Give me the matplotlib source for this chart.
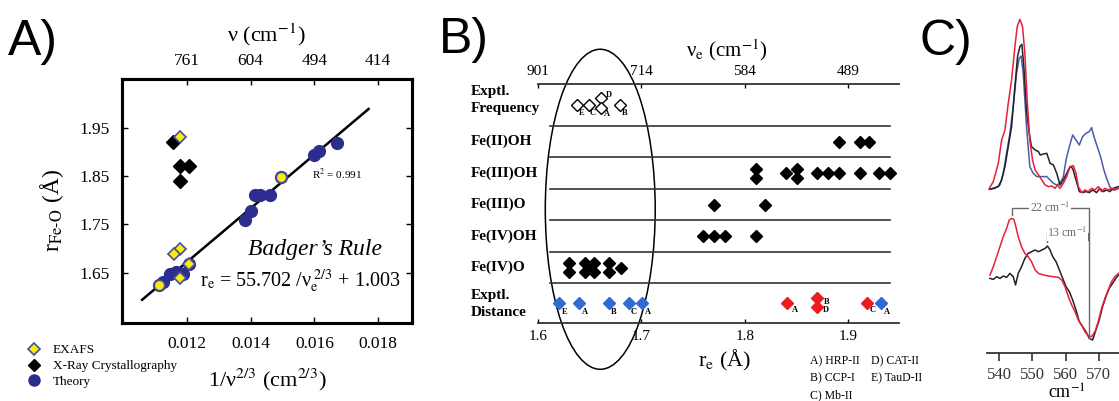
import matplotlib
matplotlib.use('Agg')
import matplotlib.pyplot as plt
from matplotlib.lines import Line2D
from matplotlib.patches import Ellipse
import matplotlib.transforms as mtransforms

plt.rcParams['font.family'] = 'Liberation Serif'
plt.rcParams['mathtext.fontset'] = 'stix'

# ---------------- Panel A data ----------------
a_xticks = [0.012, 0.014, 0.016, 0.018]
a_xticklabels = ['0.012', '0.014', '0.016', '0.018']
a_top_labels = ['761', '604', '494', '414']
a_yticks = [1.65, 1.75, 1.85, 1.95]
a_yticklabels = ['1.65', '1.75', '1.85', '1.95']

theory_x = [0.01126, 0.01147, 0.01166, 0.01188, 0.01207, 0.01113, 0.01381, 0.01402,
            0.01413, 0.01428, 0.01462, 0.01496, 0.01600, 0.01616, 0.01670]
theory_y = [1.630, 1.648, 1.651, 1.648, 1.668, 1.625, 1.760, 1.777,
            1.811, 1.811, 1.811, 1.849, 1.894, 1.903, 1.918]
xray_x = [0.01157, 0.01178, 0.01207, 0.01178]
xray_y = [1.920, 1.870, 1.870, 1.839]
exafs_x = [0.01178, 0.01178, 0.01160, 0.01178, 0.01207]
exafs_y = [1.930, 1.700, 1.689, 1.639, 1.668]
exafs_round_x = [0.01113, 0.01496]
exafs_round_y = [1.625, 1.849]
fit_x = [0.0106, 0.0177]
fit_y = [1.594, 1.989]

# ---------------- Panel B data ----------------
b_xticks = [1.6, 1.7, 1.8, 1.9]
b_xticklabels = ['1.6', '1.7', '1.8', '1.9']
b_top_labels = ['901', '714', '584', '489']
row_names = ['Exptl.\nFrequency', 'Fe(II)OH', 'Fe(III)OH', 'Fe(III)O', 'Fe(IV)OH', 'Fe(IV)O', 'Exptl.\nDistance']
row_label_y = [-0.32, 1.0, 2.0, 3.0, 4.0, 5.0, 6.15]
separators_y = [0.5, 1.5, 2.5, 3.5, 4.5, 5.5]

freq_r = [1.638, 1.649, 1.661, 1.661, 1.679]
freq_y = [-0.17, -0.17, -0.38, -0.06, -0.17]
freq_lab = ['E', 'C', 'D', 'A', 'B']

fe2oh_r = [1.891, 1.911, 1.920]
fe2oh_y = [1.0, 1.0, 1.0]
fe3oh_r = [1.811, 1.811, 1.840, 1.850, 1.850, 1.870, 1.880, 1.891, 1.911, 1.930, 1.940]
fe3oh_y = [1.86, 2.14, 2.0, 1.86, 2.14, 2.0, 2.0, 2.0, 2.0, 2.0, 2.0]
fe3o_r = [1.770, 1.820]
fe3o_y = [3.0, 3.0]
fe4oh_r = [1.760, 1.770, 1.781, 1.811]
fe4oh_y = [4.0, 4.0, 4.0, 4.0]
fe4o_r = [1.630, 1.630, 1.645, 1.645, 1.649, 1.654, 1.654, 1.669, 1.669, 1.680]
fe4o_y = [4.86, 5.14, 4.86, 5.14, 5.0, 4.86, 5.14, 4.86, 5.14, 5.0]

dist_blue_r = [1.6206, 1.640, 1.6682, 1.6882, 1.7005, 1.9314]
dist_blue_y = [6.11, 6.11, 6.11, 6.11, 6.11, 6.11]
dist_blue_lab = ['E', 'A', 'B', 'C', 'A', 'A']
dist_red_r = [1.8406, 1.870, 1.870, 1.9179]
dist_red_y = [6.11, 5.97, 6.24, 6.11]
dist_red_lab = ['A', 'B', 'D', 'C']

legend_b_col1 = ['A) HRP-II', 'B) CCP-I', 'C) Mb-II']
legend_b_col2 = ['D) CAT-II', 'E) TauD-II']

# ---------------- Panel C data ----------------
c_xticks = [540, 550, 560, 570]
up_red_x = [537.0, 538.2, 539.7, 540.7, 541.7, 542.7, 543.7, 544.7, 545.4, 546.2, 547.0, 547.7,
            548.4, 549.2, 550.0, 550.8, 551.8, 552.8, 553.8, 554.8, 555.8, 556.8, 557.5, 558.3,
            559.3, 560.3, 561.3, 562.3, 563.1, 563.8, 564.8, 565.8, 566.8, 567.8, 568.8, 569.8,
            570.8, 571.8, 572.8, 573.8, 574.8, 575.9]
up_red_y = [1, 7.7, 26, 49.3, 59.3, 86, 109.3, 142.7, 162.7, 170, 162.7, 136,
            89.3, 49.3, 29.3, 19.3, 14.3, 9.3, 4.3, 2.7, 3.3, 1, 4.3, 1,
            6, 12.7, 22.7, 23.7, 16, 2.7, -3.3, -0.7, -2.3, 1, -0.7, 2.7,
            -2.3, 1, -0.7, 1, -0.7, 1]
up_black_x = [537.0, 538.2, 539.7, 540.7, 541.7, 542.7, 543.7, 544.7, 545.5, 546.2, 546.8, 547.4,
              548.2, 549.0, 549.7, 550.8, 551.8, 552.3, 553.3, 554.3, 555.3, 556.3, 557.3, 558.3,
              559.3, 560.3, 561.3, 562.1, 563.1, 564.1, 565.1, 566.1, 567.1, 568.1, 569.3, 570.3,
              571.3, 572.3, 573.3, 574.3, 575.9]
up_black_y = [0, 1, 2.7, 9.3, 22.7, 42.7, 62.7, 102.7, 132.7, 142.7, 145, 122.7,
              79.3, 56, 42.7, 39.3, 37.7, 34.3, 35.3, 36, 26, 24.3, 16, 4.3,
              9.3, 16, 22.7, 21, 9.3, -2.3, -3.3, -2.3, -3.3, -0.7, -3.3, 1,
              -2.3, -0.7, -2.3, 1, 2.7]
up_blue_x = [537.2, 538.7, 540.2, 541.2, 542.2, 543.2, 544.2, 545.2, 546.0, 546.6, 547.2, 548.2,
             549.2, 550.2, 551.3, 552.3, 553.3, 554.3, 555.3, 556.3, 557.3, 558.3, 559.3, 560.1,
             561.1, 562.1, 563.1, 564.1, 565.1, 566.1, 567.1, 567.8, 568.5, 569.5, 570.5, 571.5,
             572.5, 573.5, 574.3, 575.9]
up_blue_y = [0, 1, 4.3, 16, 36, 56, 82.7, 116, 131, 133.3, 116, 62.7,
             22.7, 16, 12.7, 12.7, 12.7, 12.7, 9.3, 6, 4.3, 6, 12.7, 29.3,
             42.7, 54.3, 49.3, 44.3, 52.7, 56, 57.7, 61.7, 52.7, 42.7, 32.7, 19.3,
             9.3, 1, -0.7, 1]
lo_red_x = [537.2, 538.2, 539.2, 540.2, 541.2, 542.2, 543.0, 543.7, 544.4, 545.0, 545.7, 546.7,
            547.7, 548.7, 549.7, 550.8, 551.8, 553.3, 554.8, 556.3, 557.8, 558.8, 559.8, 560.8,
            561.8, 562.8, 563.8, 564.8, 565.8, 566.8, 567.8, 568.8, 569.8, 570.8, 571.8, 572.8,
            573.8, 574.8, 575.9]
lo_red_y = [1.7, 10, 20, 30, 40, 48.3, 56.7, 58.3, 57.3, 50, 40, 30,
            23.3, 20, 15, 6.7, 3.3, 1.7, 0.7, 0, -0.7, -3.3, -10, -20,
            -28.3, -35, -43.3, -48.3, -55, -59, -60, -55, -45, -31.7, -21.7, -13.3,
            -5, 0, 3.3]
lo_black_x = [537.2, 538.2, 539.2, 540.2, 541.2, 542.2, 543.2, 544.2, 544.9, 545.7, 546.7, 547.7,
              548.7, 549.7, 550.8, 551.8, 552.8, 553.8, 554.5, 555.3, 556.1, 557.1, 558.1, 559.1,
              560.1, 561.1, 562.1, 563.1, 564.1, 565.1, 566.1, 567.1, 568.1, 569.1, 570.1, 571.1,
              572.1, 573.1, 574.1, 575.1, 575.9]
lo_black_y = [-1.7, -2.7, 0, -1.7, 0.7, -0.7, 3.3, 0, -8.3, 3.3, 10, 18.3,
              23.3, 25, 26.7, 25, 26.7, 28.3, 30.7, 26.7, 20, 15, 6.7, -1.7,
              -10, -15, -23.3, -33.3, -45, -50, -55, -61.7, -63.3, -53.3, -43.3, -30,
              -20, -11.7, -6.7, -1.7, 1.7]

W, H = 1119, 401
fig = plt.figure(figsize=(W / 100, H / 100), dpi=100)


def ftext(px, py, s, **kw):
    return fig.text(px / W, 1 - py / H, s, **kw)


def box(l, t, r, b):
    return [l / W, 1 - b / H, (r - l) / W, (b - t) / H]


navy = '#2c2d8e'
yellow = '#f4f000'

# ================= Panel A =================
axA = fig.add_axes(box(122, 79, 412, 323))
axA.set_xlim(0.00997, 0.01906)
axA.set_ylim(1.546, 2.051)
axA.plot(fit_x, fit_y, color='black', lw=1.8, zorder=2)
axA.plot(theory_x, theory_y, 'o', ms=8.5, mfc=navy, mec=navy, mew=1, ls='none', zorder=3)
axA.plot(xray_x, xray_y, 'D', ms=7, mfc='black', mec='black', ls='none', zorder=4)
axA.plot(exafs_round_x, exafs_round_y, 'o', ms=7.5, mfc=yellow, mec='#4a4aa8', mew=1.2, ls='none', zorder=5)
axA.plot(exafs_x, exafs_y, 'D', ms=6.5, mfc=yellow, mec='#4a4aa8', mew=1.2, ls='none', zorder=5)
axA.set_xticks(a_xticks)
axA.set_xticklabels(a_xticklabels, fontsize=12.5)
axA.set_yticks(a_yticks)
axA.set_yticklabels(a_yticklabels, fontsize=12.5)
axA.tick_params(direction='in', length=4, width=1, pad=9, right=True)
for s in axA.spines.values():
    s.set_linewidth(2.2)
axAt = axA.twiny()
axAt.set_xlim(axA.get_xlim())
axAt.set_xticks(a_xticks)
axAt.set_xticklabels(a_top_labels, fontsize=12.5)
axAt.tick_params(direction='in', length=4, width=1, pad=7)
for s in axAt.spines.values():
    s.set_linewidth(2.2)

ftext(315, 250, "Badger\u2019s Rule", fontsize=17, style='italic', ha='center', va='center')
ftext(300, 281, r'r$_{\mathrm{e}}$ = 55.702 /ν$_{\mathrm{e}}^{\;2/3}$ + 1.003', fontsize=14.5,
      ha='center', va='center')
ftext(337, 174, r'R$^2$ = 0.991', fontsize=8, ha='center', va='center')

ftext(266, 35, r'ν (cm$^{-1}$)', fontsize=16, ha='center', va='center')
ftext(267, 380, r'1/ν$^{2/3}$ (cm$^{2/3}$)', fontsize=16, ha='center', va='center')
ftext(52, 210, r'r$_{\mathrm{Fe}\text{-}\mathrm{O}}$ (Å)', fontsize=17, ha='center', va='center', rotation=90)
ftext(33, 42, 'A)', fontsize=36, family='Liberation Sans', ha='center', va='center')

handles = [Line2D([], [], marker='D', ls='none', ms=6.5, mfc=yellow, mec='#4a4aa8', mew=1.2),
           Line2D([], [], marker='D', ls='none', ms=6.5, mfc='black', mec='black'),
           Line2D([], [], marker='o', ls='none', ms=8, mfc=navy, mec=navy)]
fig.legend(handles, ['EXAFS', 'X-Ray Crystallography', 'Theory'], loc='upper left',
           bbox_to_anchor=(26 / W, 1 - 344 / H), frameon=False, fontsize=9.5,
           handlelength=1.2, handletextpad=0.85, labelspacing=0.28, borderpad=0, borderaxespad=0)

# ================= Panel B =================
axB = fig.add_axes(box(538, 84, 899, 323))
axB.set_xlim(1.6, 1.9491)
axB.set_ylim(6.754, -0.833)
for k in ['left', 'right', 'top']:
    axB.spines[k].set_visible(False)
axB.spines['bottom'].set_linewidth(1.3)
axB.spines['bottom'].set_color('#333333')
axB.set_yticks([])
axB.set_xticks(b_xticks)
axB.set_xticklabels(b_xticklabels, fontsize=11)
axB.tick_params(axis='x', direction='in', length=3, width=1, pad=5)
axBt = axB.twiny()
axBt.set_xlim(axB.get_xlim())
for k in ['left', 'right', 'bottom']:
    axBt.spines[k].set_visible(False)
axBt.spines['top'].set_linewidth(1.3)
axBt.spines['top'].set_color('#333333')
axBt.set_xticks(b_xticks)
axBt.set_xticklabels(b_top_labels, fontsize=11)
axBt.tick_params(axis='x', direction='in', length=3, width=1, pad=4)

for yv in separators_y:
    axB.axhline(yv, xmin=(1.612 - 1.6) / 0.3491, xmax=(1.9404 - 1.6) / 0.3491, color='#333333', lw=1.2)

trB = mtransforms.blended_transform_factory(fig.transFigure, axB.transData)
for name, yv in zip(row_names, row_label_y):
    axB.text(471 / W, yv, name, transform=trB, fontsize=11, fontweight='bold', ha='left', va='center',
             linespacing=1.35)

dkw = dict(marker='D', ls='none', ms=6.2, zorder=4)
axB.plot(fe2oh_r, fe2oh_y, color='black', **dkw)
axB.plot(fe3oh_r, fe3oh_y, color='black', **dkw)
axB.plot(fe3o_r, fe3o_y, color='black', **dkw)
axB.plot(fe4oh_r, fe4oh_y, color='black', **dkw)
axB.plot(fe4o_r, fe4o_y, color='black', **dkw)
axB.plot(freq_r, freq_y, marker='D', ls='none', ms=6.0, mfc='white', mec='black', mew=1.0, zorder=4)
axB.plot(dist_blue_r, dist_blue_y, color='#2f6bd0', **dkw)
axB.plot(dist_red_r, dist_red_y, color='#ee1c1c', **dkw)

lkw = dict(textcoords='offset points', fontsize=6, fontweight='bold', ha='center', va='center')
freq_off = [(3, -6), (2.5, -6), (5.5, 2.5), (4.5, -4), (3.5, -6)]
for r, yv, lab, off in zip(freq_r, freq_y, freq_lab, freq_off):
    axB.annotate(lab, (r, yv), xytext=off, **lkw)
blue_off = [(3.5, -6.5), (4, -6.5), (4, -6.5), (3.5, -6.5), (4.5, -6.5), (4.5, -6.5)]
for r, yv, lab, off in zip(dist_blue_r, dist_blue_y, dist_blue_lab, blue_off):
    axB.annotate(lab, (r, yv), xytext=off, **lkw)
red_off = [(6, -5), (7, -2.5), (6.5, -2.5), (4.5, -5.5)]
for r, yv, lab, off in zip(dist_red_r, dist_red_y, dist_red_lab, red_off):
    axB.annotate(lab, (r, yv), xytext=off, **lkw)

axB.add_patch(Ellipse((1.6602, 3.144), 0.1063, 10.16, fill=False, lw=1.1, color='black', clip_on=False))

ftext(727, 50, r'ν$_{\mathrm{e}}$ (cm$^{-1}$)', fontsize=15, ha='center', va='center')
ftext(725, 360, r'r$_{\mathrm{e}}$ (Å)', fontsize=16, ha='center', va='center')
ftext(464, 40, 'B)', fontsize=36, family='Liberation Sans', ha='center', va='center')
for i, s in enumerate(legend_b_col1):
    ftext(810, 361 + 17 * i, s, fontsize=8.5, ha='left', va='center')
for i, s in enumerate(legend_b_col2):
    ftext(871, 361 + 17 * i, s, fontsize=8.5, ha='left', va='center')

# ================= Panel C =================
axC = fig.add_axes(box(987, 0, 1119, 353))
axC.set_xlim(536.3, 576.05)
axC.set_ylim(353, 0)
axC.patch.set_alpha(0)
for k in ['left', 'right', 'top']:
    axC.spines[k].set_visible(False)
axC.spines['bottom'].set_linewidth(1.3)
axC.spines['bottom'].set_color('#333333')
axC.set_yticks([])
axC.set_xticks(c_xticks)
axC.set_xticklabels([str(v) for v in c_xticks], fontsize=12)
axC.tick_params(axis='x', direction='out', length=6, width=1.2, pad=4, colors='#333333')

base_up = 189.3
base_lo = 276.7
axC.plot(up_blue_x, [base_up - v for v in up_blue_y], color='#4a5da6', lw=1.1)
axC.plot(up_black_x, [base_up - v for v in up_black_y], color='#222222', lw=1.1)
axC.plot(up_red_x, [base_up - v for v in up_red_y], color='#e8203a', lw=1.1)
axC.plot(lo_black_x, [base_lo - v for v in lo_black_y], color='#222222', lw=1.1)
axC.plot(lo_red_x, [base_lo - v for v in lo_red_y], color='#e8203a', lw=1.1)

gray = '#6a6a6a'
axC.plot([543.9, 543.9, 567.1, 567.1], [215, 208.3, 208.3, 338], color=gray, lw=1)
axC.plot([554.3, 554.3, 566.8, 566.8], [241.7, 232.7, 232.7, 240], color=gray, lw=1)
axC.text(555.3, 208.3, r'22 cm$^{-1}$', fontsize=8.5, color=gray, ha='center', va='center',
         bbox=dict(facecolor='white', edgecolor='none', pad=0.5))
axC.text(560.5, 232.7, r'13 cm$^{-1}$', fontsize=8.5, color=gray, ha='center', va='center',
         bbox=dict(facecolor='white', edgecolor='none', pad=0.5))

ftext(1067, 393, r'cm$^{-1}$', fontsize=13, ha='center', va='center')
ftext(946, 42, 'C)', fontsize=36, family='Liberation Sans', ha='center', va='center')

fig.savefig('out.png', dpi=100, facecolor='white')
